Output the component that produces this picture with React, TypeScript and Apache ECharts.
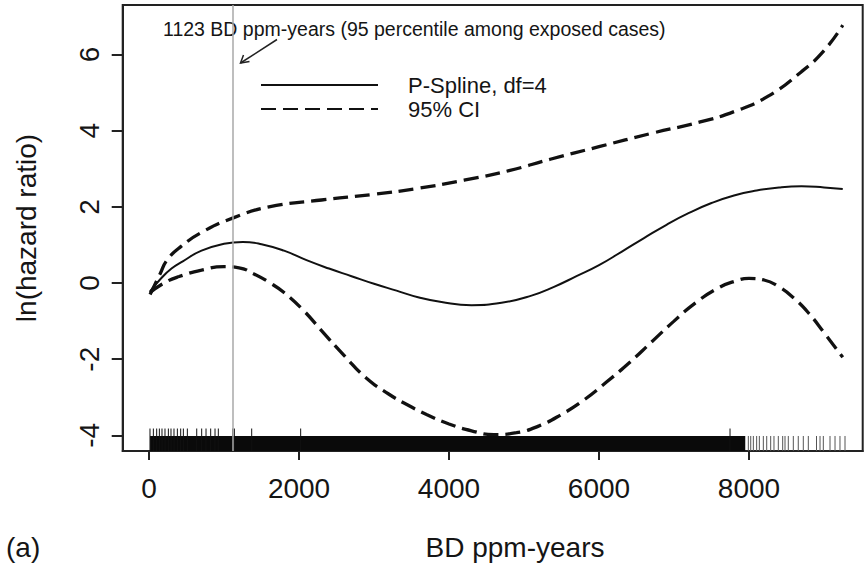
import React, { useEffect, useRef } from "react";
import * as echarts from "echarts";

// ---- data ----
const xTicks = [0, 2000, 4000, 6000, 8000];
const yTicks = [-4, -2, 0, 2, 4, 6];

const splineX = [14, 150, 300, 450, 700, 1000, 1250, 1500, 1800, 2100, 2400, 2700, 3000, 3300, 3600, 3900, 4300, 4700, 5100, 5400, 5700, 6000, 6300, 6600, 6900, 7200, 7500, 7800, 8100, 8400, 8700, 9000, 9250];
const splineY = [-0.22, 0.1, 0.38, 0.57, 0.85, 1.03, 1.08, 1.02, 0.85, 0.6, 0.38, 0.18, -0.02, -0.2, -0.38, -0.5, -0.58, -0.52, -0.33, -0.1, 0.18, 0.47, 0.82, 1.18, 1.53, 1.84, 2.1, 2.3, 2.43, 2.51, 2.54, 2.51, 2.47];

const upperX = [14, 150, 240, 420, 720, 1123, 1600, 2300, 3000, 3600, 4200, 4800, 5350, 6000, 6700, 7350, 7800, 8250, 8700, 9000, 9250];
const upperY = [-0.3, 0.25, 0.6, 0.95, 1.35, 1.71, 2.0, 2.18, 2.33, 2.49, 2.7, 2.95, 3.25, 3.58, 3.93, 4.23, 4.5, 4.9, 5.55, 6.1, 6.77];

const lowerX = [14, 200, 400, 700, 1000, 1200, 1400, 1600, 1800, 2050, 2300, 2600, 2900, 3200, 3400, 3700, 4000, 4300, 4600, 4900, 5200, 5500, 5800, 6100, 6400, 6700, 7000, 7300, 7600, 7800, 8000, 8200, 8400, 8600, 8800, 9000, 9250];
const lowerY = [-0.25, 0.0, 0.17, 0.34, 0.43, 0.4, 0.24, 0.02, -0.25, -0.7, -1.25, -1.9, -2.5, -2.92, -3.15, -3.45, -3.7, -3.88, -3.98, -3.93, -3.75, -3.45, -3.07, -2.6, -2.1, -1.55, -1.0, -0.5, -0.12, 0.04, 0.12, 0.08, -0.1, -0.4, -0.8, -1.3, -1.95];

const percentile95 = 1123;

// rug: dense band of exposures, tall ticks, and sparse ticks beyond the band
const rugBand = [[14, 7950]];
const rugTall = [13, 58, 102, 138, 173, 213, 258, 293, 333, 378, 422, 458, 511, 636, 702, 760, 822, 880, 924, 1116, 1138, 1369, 2022, 7747];
const rugSparse = [7991, 8023, 8058, 8102, 8138, 8191, 8236, 8289, 8333, 8391, 8449, 8480, 8524, 8591, 8657, 8724, 8791, 8900, 8947, 8991, 9080, 9147, 9213, 9280];

const X_MIN = -351, X_MAX = 9516, Y_MIN = -4.41, Y_MAX = 7.3;
const RUG_TOP = -4.016, RUG_TALL_TOP = -3.82;

const FONT = "'Liberation Sans', Arial, Helvetica, sans-serif";
const INK = "#151515";

const zip = (xs: number[], ys: number[]) => xs.map((x, i) => [x, ys[i]]);

export default function App() {
  const ref = useRef<HTMLDivElement>(null);
  useEffect(() => {
    if (!ref.current) return;
    const chart = echarts.init(ref.current, undefined, { renderer: "svg" });

    const rugTicks = (name: string, xs: number[], top: number, color: string) => ({
      type: "custom",
      name,
      silent: true,
      clip: true,
      data: xs.map((x) => [x]),
      renderItem: (_p: any, api: any) => {
        const x = api.value(0);
        const a = api.coord([x, Y_MIN]);
        const b = api.coord([x, top]);
        return {
          type: "line",
          shape: { x1: a[0], y1: a[1], x2: b[0], y2: b[1] },
          style: { stroke: color, lineWidth: 1 },
        };
      },
    });

    chart.setOption({
      animation: false,
      backgroundColor: "#fff",
      grid: {
        left: 122.7,
        right: 2.3,
        top: 5,
        bottom: 114,
        show: true,
        borderColor: "#222",
        borderWidth: 2,
      },
      xAxis: {
        type: "value",
        min: X_MIN,
        max: X_MAX,
        splitLine: { show: false },
        axisLine: { show: true, onZero: false, lineStyle: { color: "#222", width: 2 } },
        axisTick: { show: true, customValues: xTicks, length: 9, inside: false, lineStyle: { color: "#222", width: 2 } },
        axisLabel: {
          customValues: xTicks,
          formatter: (v: number) => String(v),
          fontSize: 28,
          fontFamily: FONT,
          color: INK,
          margin: 23,
        },
      },
      yAxis: {
        type: "value",
        min: Y_MIN,
        max: Y_MAX,
        splitLine: { show: false },
        axisLine: { show: true, onZero: false, lineStyle: { color: "#222", width: 2 } },
        axisTick: { show: true, customValues: yTicks, length: 11, inside: false, lineStyle: { color: "#222", width: 2 } },
        axisLabel: {
          customValues: yTicks,
          formatter: (v: number) => String(v),
          fontSize: 28,
          fontFamily: FONT,
          color: INK,
          rotate: 90,
          margin: 19,
        },
      },
      legend: {
        data: ["P-Spline, df=4", "95% CI"],
        orient: "vertical",
        left: 260,
        top: 74,
        padding: 0,
        itemWidth: 117,
        itemHeight: 20,
        itemGap: 2,
        itemStyle: { opacity: 0 },
        textStyle: { fontSize: 22, fontFamily: FONT, color: INK, padding: [0, 0, 0, 25] },
      },
      series: [
        {
          type: "line",
          name: "P-Spline, df=4",
          data: zip(splineX, splineY),
          smooth: true,
          showSymbol: false,
          symbol: "none",
          itemStyle: { color: "#111" },
          lineStyle: { color: "#111", width: 2 },
          markLine: {
            silent: true,
            symbol: "none",
            label: { show: false },
            lineStyle: { color: "#a8a8a8", width: 1.5, type: "solid" },
            data: [{ xAxis: percentile95 }],
          },
        },
        {
          type: "line",
          name: "95% CI",
          data: zip(upperX, upperY),
          smooth: true,
          showSymbol: false,
          symbol: "none",
          itemStyle: { color: "#111" },
          lineStyle: { color: "#111", width: 3.3, type: [15, 7] },
        },
        {
          type: "line",
          name: "95% CI",
          data: zip(lowerX, lowerY),
          smooth: true,
          showSymbol: false,
          symbol: "none",
          itemStyle: { color: "#111" },
          lineStyle: { color: "#111", width: 3.3, type: [15, 7] },
        },
        {
          type: "custom",
          name: "rugBand",
          silent: true,
          clip: true,
          data: rugBand,
          renderItem: (_p: any, api: any) => {
            const a = api.coord([api.value(0), RUG_TOP]);
            const b = api.coord([api.value(1), Y_MIN]);
            return {
              type: "rect",
              shape: { x: a[0], y: a[1], width: b[0] - a[0], height: b[1] - a[1] },
              style: { fill: "#0a0a0a" },
            };
          },
        },
        rugTicks("rugTall", rugTall, RUG_TALL_TOP, "#111"),
        rugTicks("rugSparse", rugSparse, RUG_TOP, "#555"),
      ],
      graphic: [
        {
          type: "text",
          left: 163,
          top: 19,
          style: {
            text: "1123 BD ppm-years (95 percentile among exposed cases)",
            fontSize: 19.5,
            fontFamily: FONT,
            fill: INK,
          },
        },
        {
          type: "line",
          shape: { x1: 277, y1: 39.5, x2: 240.5, y2: 63 },
          style: { stroke: "#222", lineWidth: 1.5 },
        },
        {
          type: "polyline",
          shape: { points: [[243.5, 55], [240.5, 63], [249.5, 61.5]] },
          style: { stroke: "#222", lineWidth: 1.5, fill: "none" },
        },
        {
          type: "text",
          x: 515,
          y: 547,
          style: {
            text: "BD ppm-years",
            fontSize: 28,
            fontFamily: FONT,
            fill: INK,
            align: "center",
            verticalAlign: "middle",
          },
        },
        {
          type: "text",
          x: 26,
          y: 228,
          rotation: Math.PI / 2,
          style: {
            text: "ln(hazard ratio)",
            fontSize: 28,
            fontFamily: FONT,
            fill: INK,
            align: "center",
            verticalAlign: "middle",
          },
        },
        {
          type: "text",
          x: 6,
          y: 547,
          style: {
            text: "(a)",
            fontSize: 28,
            fontFamily: FONT,
            fill: INK,
            align: "left",
            verticalAlign: "middle",
          },
        },
      ],
    });
    return () => chart.dispose();
  }, []);
  return <div ref={ref} style={{ width: 865, height: 565, position: "absolute", left: 0, top: 0 }} />;
}
